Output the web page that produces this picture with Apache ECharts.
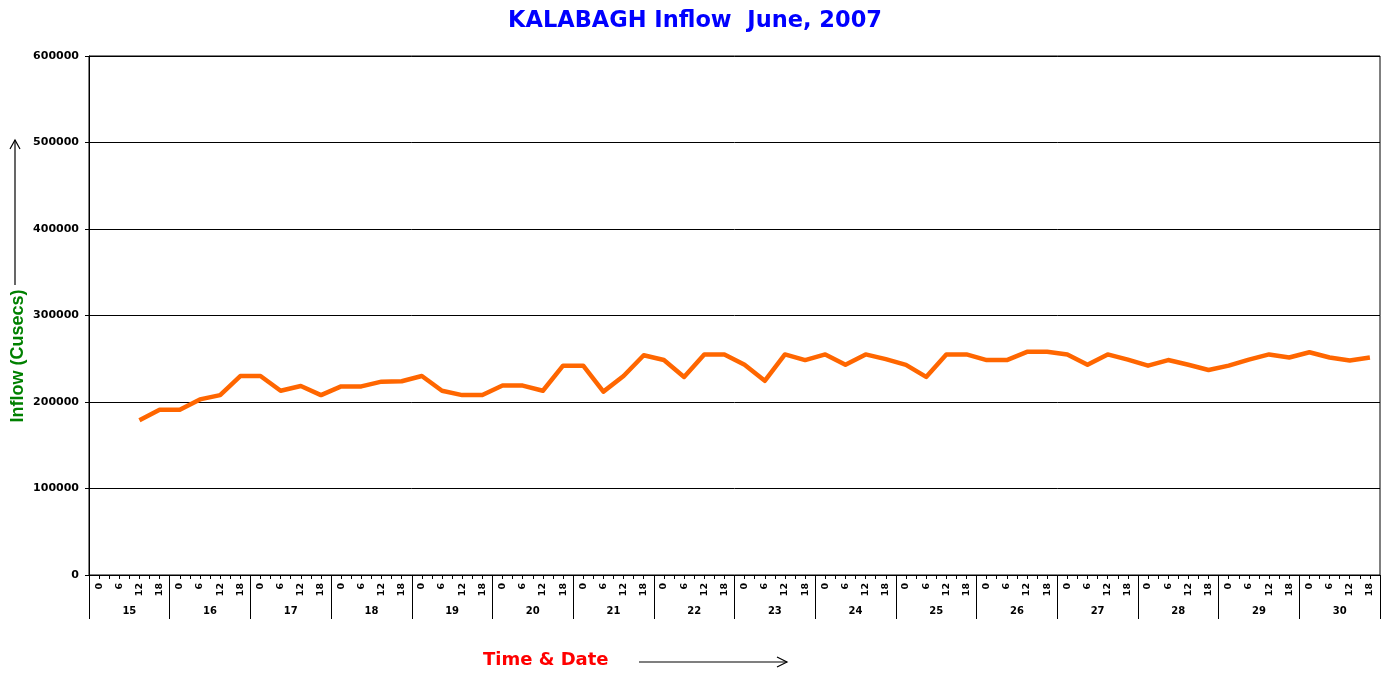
<!DOCTYPE html>
<html>
<head>
<meta charset="utf-8">
<title>KALABAGH Inflow June, 2007</title>
<script src="https://cdn.jsdelivr.net/npm/echarts@6/dist/echarts.min.js"></script>
<style>
  html, body { margin: 0; padding: 0; background: #fff; }
  #chart { width: 1390px; height: 673px; }
</style>
</head>
<body>
<div id="chart"></div>
<script>
// days shown on the outer axis
var days = ['15', '16', '17', '18', '19', '20', '21', '22', '23', '24', '25', '26', '27', '28', '29', '30']
// hours of each day (inner axis)
var hours = ['0', '6', '12', '18']
// inflow in cusecs, one value per 6 hours, starting at 15th 0 hrs
var inflow = [
  null, null, 179000, 191000,
  191000, 203000, 208000, 230000,
  230000, 213000, 218500, 208000,
  218000, 218000, 223500, 224000,
  230000, 213000, 208000, 208000,
  219000, 219000, 213000, 242000,
  242000, 212000, 230000, 254000,
  248500, 229000, 255000, 255000,
  243000, 224500, 255000, 248500,
  255000, 243000, 255000, 249500,
  243000, 229000, 255000, 255000,
  248500, 248500, 258000, 258000,
  255000, 243000, 255000, 249000,
  242000, 248500, 243000, 237000,
  242000, 249000, 255000, 251500,
  257500, 251500, 248000, 251500
]
var yTicks = [0, 600000, 100000] // min, max, step

var slots = []
days.forEach(function (d) {
  hours.forEach(function (h) {
    slots.push(h)
  })
})

var labelFont = 'DejaVu Sans'

var chart = echarts.init(document.getElementById('chart'))
var option = {
  animation: false,
  backgroundColor: '#fff',
  title: {
    text: 'KALABAGH Inflow  June, 2007',
    left: 'center',
    top: 5,
    textStyle: {
      color: '#0000ff',
      fontFamily: 'DejaVu Sans',
      fontWeight: 'bold',
      fontSize: 22.5
    }
  },
  grid: {
    left: 89,
    right: 10,
    top: 56,
    bottom: 98,
    show: true,
    borderColor: '#000',
    borderWidth: 1
  },
  xAxis: [
    {
      // hours
      type: 'category',
      data: slots,
      position: 'bottom',
      boundaryGap: true,
      axisLine: { show: true, lineStyle: { color: '#000', width: 1 } },
      axisTick: { show: true, interval: 0, length: 4, lineStyle: { color: '#000', width: 1 } },
      axisLabel: {
        interval: 0,
        rotate: 90,
        margin: 8,
        color: '#000',
        fontFamily: labelFont,
        fontWeight: 'bold',
        fontSize: 9.5
      }
    },
    {
      // ticks in the middle of each slot
      type: 'category',
      data: slots,
      position: 'bottom',
      boundaryGap: true,
      axisLine: { show: true, lineStyle: { color: '#000', width: 1 } },
      axisTick: { show: true, interval: 0, alignWithLabel: true, length: 4, lineStyle: { color: '#000', width: 1 } },
      axisLabel: { show: false }
    },
    {
      // days
      type: 'category',
      data: days,
      position: 'bottom',
      boundaryGap: true,
      axisLine: { show: true, lineStyle: { color: '#000', width: 1 } },
      axisTick: { show: true, interval: 0, length: 44, lineStyle: { color: '#000', width: 1 } },
      axisLabel: {
        interval: 0,
        margin: 31,
        color: '#000',
        fontFamily: labelFont,
        fontWeight: 'bold',
        fontSize: 10
      }
    }
  ],
  yAxis: {
    type: 'value',
    min: yTicks[0],
    max: yTicks[1],
    interval: yTicks[2],
    axisLine: { show: true, lineStyle: { color: '#000', width: 1 } },
    axisTick: { show: true, length: 4, lineStyle: { color: '#000' } },
    splitLine: { lineStyle: { color: '#000', width: 1 } },
    axisLabel: {
      margin: 10,
      color: '#000',
      fontFamily: labelFont,
      fontWeight: 'bold',
      fontSize: 11,
      formatter: function (v) { return String(v) }
    }
  },
  series: [{
    name: 'Inflow',
    type: 'line',
    xAxisIndex: 0,
    data: inflow,
    showSymbol: false,
    symbol: 'none',
    connectNulls: false,
    lineStyle: { color: '#ff6600', width: 4.5, join: 'round' },
    itemStyle: { color: '#ff6600' }
  }],
  graphic: [
    // y axis title with arrow
    {
      type: 'text',
      x: 18,
      y: 356,
      rotation: Math.PI / 2,
      style: {
        text: 'Inflow (Cusecs)',
        fill: '#008000',
        font: 'bold 18px "Liberation Sans"',
        align: 'center',
        verticalAlign: 'middle'
      }
    },
    {
      type: 'line',
      shape: { x1: 15, y1: 285, x2: 15, y2: 140 },
      style: { stroke: '#000', lineWidth: 1.2 }
    },
    {
      type: 'polyline',
      shape: { points: [[10, 149], [15, 140], [20, 149]] },
      style: { stroke: '#000', lineWidth: 1.2, fill: null }
    },
    // x axis title with arrow
    {
      type: 'text',
      x: 483,
      y: 660,
      style: {
        text: 'Time & Date',
        fill: '#ff0000',
        font: 'bold 18px "DejaVu Sans"',
        align: 'left',
        verticalAlign: 'middle'
      }
    },
    {
      type: 'line',
      shape: { x1: 639, y1: 662, x2: 787, y2: 662 },
      style: { stroke: '#000', lineWidth: 1.2 }
    },
    {
      type: 'polyline',
      shape: { points: [[777, 657], [787, 662], [777, 667]] },
      style: { stroke: '#000', lineWidth: 1.2, fill: null }
    }
  ]
}
chart.setOption(option)
</script>
</body>
</html>
